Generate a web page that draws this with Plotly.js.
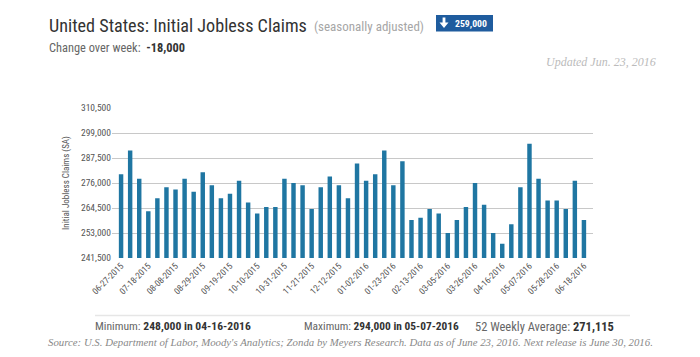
<!DOCTYPE html>
<html>
<head>
<meta charset="utf-8">
<script src="https://cdn.plot.ly/plotly-3.0.1.min.js"></script>
<style>
html,body{margin:0;padding:0;background:#fff;}
#chart{width:700px;height:357px;}
svg text{font-stretch:condensed;}
</style>
</head>
<body>
<div id="chart"></div>
<script>
// ---- data ----
const weeks = [
  "06-27-2015","07-04-2015","07-11-2015","07-18-2015","07-25-2015","08-01-2015","08-08-2015","08-15-2015",
  "08-22-2015","08-29-2015","09-05-2015","09-12-2015","09-19-2015","09-26-2015","10-03-2015","10-10-2015",
  "10-17-2015","10-24-2015","10-31-2015","11-07-2015","11-14-2015","11-21-2015","11-28-2015","12-05-2015",
  "12-12-2015","12-19-2015","12-26-2015","01-02-2016","01-09-2016","01-16-2016","01-23-2016","01-30-2016",
  "02-06-2016","02-13-2016","02-20-2016","02-27-2016","03-05-2016","03-12-2016","03-19-2016","03-26-2016",
  "04-02-2016","04-09-2016","04-16-2016","04-23-2016","04-30-2016","05-07-2016","05-14-2016","05-21-2016",
  "05-28-2016","06-04-2016","06-11-2016","06-18-2016"
];
const claims = [
  280000,291000,278000,263000,269000,274000,273000,278000,272000,281000,
  275000,269000,271000,277000,267000,262000,265000,265000,278000,276000,
  275000,264000,274000,279000,275000,269000,285000,277000,280000,291000,
  275000,286000,259000,260000,264000,262000,253000,259000,265000,276000,
  266000,253000,248000,257000,274000,294000,278000,268000,268000,264000,
  277000,259000
];
const tickLabels = weeks.filter((d, i) => i % 3 === 0);
const yTicks = [241500, 253000, 264500, 276000, 287500, 299000, 310500];

// ---- layout helpers (pixel -> paper) ----
const L = 112, R = 593, T = 108, B = 258;
const px = x => (x - L) / (R - L);
const py = y => (B - y) / (B - T);

const sans = 'Roboto, "Liberation Sans", sans-serif';
const serif = '"Liberation Serif", "DejaVu Serif", serif';

const trace = {
  type: 'bar',
  x: weeks,
  y: claims,
  marker: {color: '#1f76a2'},
  width: 0.49,
  hoverinfo: 'x+y'
};

// [annotation, target text width in px (null = leave as is)]
const annSpecs = [
  [{text: 'United States: Initial Jobless Claims', x: px(47), y: py(25), xanchor: 'left', yanchor: 'middle',
    font: {family: sans, size: 18, color: '#333333'}}, 258],
  [{text: '(seasonally adjusted)', x: px(312), y: py(26.5), xanchor: 'left', yanchor: 'middle',
    font: {family: sans, size: 13, color: '#a6a6a6'}}, 110],
  [{text: '<b>259,000</b>', x: px(471), y: py(23.5), xanchor: 'center', yanchor: 'middle',
    font: {family: sans, size: 10, color: '#ffffff'}}, 32],
  [{text: 'Change over week:  <b><span style="color:#333">-18,000</span></b>', x: px(47), y: py(47.5), xanchor: 'left', yanchor: 'middle',
    font: {family: sans, size: 12.5, color: '#666666'}}, 136],
  [{text: '<i>Updated Jun. 23, 2016</i>', x: px(658), y: py(62), xanchor: 'right', yanchor: 'middle',
    font: {family: serif, size: 12, color: '#bbbbbb'}}, null],
  [{text: 'Minimum: <b><span style="color:#333">248,000 in 04-16-2016</span></b>', x: px(93), y: py(326), xanchor: 'left', yanchor: 'middle',
    font: {family: sans, size: 12, color: '#666666'}}, 156],
  [{text: 'Maximum: <b><span style="color:#333">294,000 in 05-07-2016</span></b>', x: px(302), y: py(326), xanchor: 'left', yanchor: 'middle',
    font: {family: sans, size: 12, color: '#666666'}}, 155],
  [{text: '52 Weekly Average: <b><span style="color:#333">271,115</span></b>', x: px(473), y: py(326), xanchor: 'left', yanchor: 'middle',
    font: {family: sans, size: 12, color: '#666666'}}, 139],
  [{text: "<i>Source: U.S. Department of Labor, Moody's Analytics; Zonda by Meyers Research. Data as of June 23, 2016. Next release is June 30, 2016.</i>",
    x: px(350), y: py(342), xanchor: 'center', yanchor: 'middle',
    font: {family: serif, size: 10.8, color: '#888888'}}, null]
];
const annotations = annSpecs.map(s => Object.assign({xref: 'paper', yref: 'paper', showarrow: false}, s[0]));

// white down-arrow icon inside the badge (pixel path -> paper)
const arrowPts = [[442.6,17.5],[445.4,17.5],[445.4,22.5],[448.5,22.5],[444,28],[439.5,22.5],[442.6,22.5]];
const arrowPath = 'M' + arrowPts.map(p => px(p[0]) + ',' + py(p[1])).join(' L') + ' Z';

const shapes = [
  {type: 'rect', xref: 'paper', yref: 'paper', x0: px(436), x1: px(493), y0: py(15), y1: py(31.5),
   fillcolor: '#1f5c9e', line: {width: 0}},
  {type: 'path', xref: 'paper', yref: 'paper', path: arrowPath, fillcolor: '#ffffff', line: {width: 0}},
  {type: 'line', xref: 'paper', yref: 'paper', x0: px(95), x1: px(630), y0: py(315.5), y1: py(315.5),
   line: {color: '#e6e6e6', width: 1.5}}
];

const layout = {
  width: 700, height: 357,
  margin: {l: L, r: 700 - R, t: T, b: 357 - B, pad: 0},
  paper_bgcolor: '#ffffff', plot_bgcolor: '#ffffff',
  showlegend: false,
  xaxis: {
    type: 'category',
    range: [-1, 52],
    tickmode: 'array', tickvals: tickLabels, ticktext: tickLabels,
    tickangle: -45,
    tickfont: {family: sans, size: 9, color: '#555555'},
    showgrid: false, zeroline: false,
    showline: false, ticks: '', ticklen: 0
  },
  yaxis: {
    range: [241500, 310500],
    tickmode: 'array', tickvals: yTicks,
    tickformat: ',d',
    tickfont: {family: sans, size: 9.5, color: '#555555'},
    showgrid: true, gridcolor: '#c8c8c8', gridwidth: 1,
    zeroline: false, showline: false,
    ticks: '', ticklen: 0,
    title: {text: 'Initial Jobless Claims (SA)', font: {family: sans, size: 9, color: '#555555'}, standoff: 9}
  },
  annotations: annotations,
  shapes: shapes
};

Plotly.newPlot('chart', [trace], layout, {displayModeBar: false, staticPlot: true}).then(gd => {
  // fit annotation font sizes so the texts span the same widths as in the reference
  const upd = {};
  annSpecs.forEach((s, i) => {
    if (!s[1]) return;
    const t = gd.querySelector('g.annotation[data-index="' + i + '"] text.annotation-text');
    if (!t) return;
    const w = t.getBBox().width;
    if (w > 0) upd['annotations[' + i + '].font.size'] = +(s[0].font.size * s[1] / w).toFixed(2);
  });
  return Plotly.relayout(gd, upd);
});
</script>
</body>
</html>
